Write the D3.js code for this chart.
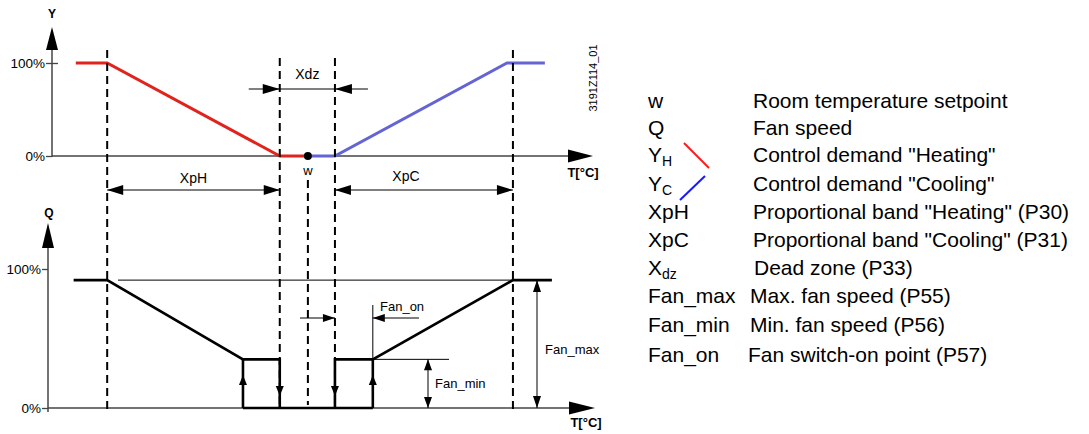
<!DOCTYPE html>
<html>
<head>
<meta charset="utf-8">
<script src="https://cdn.jsdelivr.net/npm/d3@7"></script>
<style>
    body { margin: 0; background: #fff; }
    text { font-family: "Liberation Sans", Arial, sans-serif; fill: #000; }
</style>
</head>
<body>
<div id="chart"></div>
<script>
// temperature axis is schematic: 0..100 units
const heatT = [4.4, 10.2, 42.1, 47.3];
const heatY = [100, 100, 0, 0];
const coolT = [47.3, 52.3, 84.1, 91.1];
const coolY = [0, 0, 100, 100];
const guideT = [10.2, 42.1, 52.3, 85.2];   // XpH start, Xdz start, Xdz end, XpC end
const setpointT = 47.3;
const yTicks = [0, 100];

// fan speed curve (Q in %)
const fanHeatT = [4.0, 10.2, 35.3, 42.1, 42.1];
const fanHeatQ = [92, 92, 35, 35, 0];
const fanCoolT = [52.3, 52.3, 59.3, 85.2, 92.4];
const fanCoolQ = [0, 35, 35, 92, 92];
const fanOffT = [35.3, 59.3];
const fanUpT = [35.3, 59.3];     // switch-on edges
const fanDownT = [42.1, 52.3];   // switch-off edges
const fanMax = 92;
const fanMin = 35;

const legendKeys = ["w", "Q", "Y|H", "Y|C", "XpH", "XpC", "X|dz", "Fan_max", "Fan_min", "Fan_on"];
const legendTexts = ["Room temperature setpoint", "Fan speed", "Control demand \"Heating\"", "Control demand \"Cooling\"",
    "Proportional band \"Heating\" (P30)", "Proportional band \"Cooling\" (P31)", "Dead zone (P33)",
    "Max. fan speed (P55)", "Min. fan speed (P56)", "Fan switch-on point (P57)"];

document.addEventListener("DOMContentLoaded", function () {
    const w = 1089, h = 434;
    const svg = d3.select("#chart").append("svg").attr("width", w).attr("height", h);

    const xScale = d3.scaleLinear().domain([0, 100]).range([52, 593]);
    const yScale = d3.scaleLinear().domain([0, 100]).range([156, 63]);
    const qScale = d3.scaleLinear().domain([0, 100]).range([408, 269]);

    // filled arrow head, dir: "l","r","u","d" = direction the tip points
    const arrow = function (g, x, y, dir, len, half) {
        let pts;
        if (dir === "r") pts = [[x, y], [x - len, y - half], [x - len, y + half]];
        if (dir === "l") pts = [[x, y], [x + len, y - half], [x + len, y + half]];
        if (dir === "u") pts = [[x, y], [x - half, y + len], [x + half, y + len]];
        if (dir === "d") pts = [[x, y], [x - half, y - len], [x + half, y - len]];
        g.append("polygon").attr("points", pts.map(p => p.join(",")).join(" ")).attr("fill", "#000");
    };
    const line = function (g, x1, y1, x2, y2, sw, col) {
        return g.append("line").attr("x1", x1).attr("y1", y1).attr("x2", x2).attr("y2", y2)
            .attr("stroke", col || "#000").attr("stroke-width", sw || 1);
    };

    const top = svg.append("g");
    const bot = svg.append("g");

    // ---- axes (top) ----
    const yAxis = d3.axisLeft(yScale).tickValues(yTicks).tickFormat(d => d + "%").tickSize(6);
    const ya = top.append("g").attr("transform", "translate(52,0)").call(yAxis);
    ya.select(".domain").remove();
    ya.selectAll(".tick line").attr("x2", -6).attr("x1", 6).attr("stroke", "#444").attr("stroke-width", 1.3);
    ya.selectAll(".tick line").filter(d => d === 0).attr("x1", 0);
    ya.selectAll(".tick text").attr("x", -7).attr("dy", "0.35em").style("font-size", "13.5px").style("font-family", "Liberation Sans, Arial");
    line(top, 52, 157, 52, 48, 1.5, "#444");
    arrow(top, 52, 27, "u", 23, 6);
    top.append("text").attr("x", 52).attr("y", 18).attr("text-anchor", "middle").style("font-weight", "bold").style("font-size", "12px").text("Y");
    line(top, 52, 156, 570, 156, 1.5, "#444");
    arrow(top, xScale(100), 156, "r", 25, 6.5);
    top.append("text").attr("x", 583).attr("y", 177).attr("text-anchor", "middle").style("font-weight", "bold").style("font-size", "13px").text("T[°C]");
    top.append("text").attr("transform", "translate(597,78) rotate(-90)").attr("text-anchor", "middle").style("font-size", "11px").text("3191Z114_01");

    // ---- axes (bottom) ----
    const qAxis = d3.axisLeft(qScale).tickValues(yTicks).tickFormat(d => d + "%").tickSize(6);
    const qa = bot.append("g").attr("transform", "translate(48,0)").call(qAxis);
    qa.select(".domain").remove();
    qa.selectAll(".tick line").attr("x2", -6).attr("stroke", "#444").attr("stroke-width", 1.3);
    qa.selectAll(".tick text").attr("x", -7).attr("dy", "0.35em").style("font-size", "13.5px").style("font-family", "Liberation Sans, Arial");
    line(bot, 48, 412, 48, 246, 1.5, "#444");
    arrow(bot, 48, 223, "u", 25, 6);
    bot.append("text").attr("x", 49).attr("y", 217).attr("text-anchor", "middle").style("font-weight", "bold").style("font-size", "12px").text("Q");
    line(bot, 48, 408, 572, 408, 1.5, "#444");
    arrow(bot, 595, 408, "r", 26, 6.5);
    bot.append("text").attr("x", 586).attr("y", 427).attr("text-anchor", "middle").style("font-weight", "bold").style("font-size", "13px").text("T[°C]");

    // ---- dashed guide lines ----
    const guideTop = [50, 58, 58, 50];
    const guideBot = [413, 408, 408, 413];
    guideT.forEach((t, i) => {
        line(svg, xScale(t), guideTop[i], xScale(t), guideBot[i], 2).attr("stroke-dasharray", "8,5");
    });
    line(svg, xScale(setpointT), 180, xScale(setpointT), 405, 2).attr("stroke-dasharray", "8,5");

    // ---- control demand curves ----
    const lineGen = d3.line().x(d => xScale(d[0])).y(d => yScale(d[1]));
    top.append("path").attr("d", lineGen(d3.zip(coolT, coolY))).attr("fill", "none")
        .attr("stroke", "#6464d4").attr("stroke-width", 3);
    top.append("path").attr("d", lineGen(d3.zip(heatT, heatY))).attr("fill", "none")
        .attr("stroke", "#e0231c").attr("stroke-width", 3);
    top.append("circle").attr("cx", xScale(setpointT)).attr("cy", yScale(0)).attr("r", 4).attr("fill", "#000");
    top.append("text").attr("x", xScale(setpointT)).attr("y", 175).attr("text-anchor", "middle").style("font-size", "13px").text("w");

    // ---- dimensions (top) ----
    const x0 = xScale(guideT[0]), x1 = xScale(guideT[1]), x2 = xScale(guideT[2]), x3 = xScale(guideT[3]);
    line(top, x0, 190, x1, 190, 1);
    arrow(top, x0, 190, "l", 16, 5);
    arrow(top, x1, 190, "r", 16, 5);
    top.append("text").attr("x", (x0 + x1) / 2).attr("y", 183).attr("text-anchor", "middle").style("font-size", "14px").text("XpH");
    line(top, x2, 190, x3, 190, 1);
    arrow(top, x2, 190, "l", 16, 5);
    arrow(top, x3, 190, "r", 16, 5);
    top.append("text").attr("x", (x2 + x3) / 2 - 18).attr("y", 181).attr("text-anchor", "middle").style("font-size", "14px").text("XpC");
    line(top, x1 - 31, 89, x1, 89, 1);
    arrow(top, x1, 89, "r", 17, 5);
    line(top, x2, 89, x2 + 33, 89, 1);
    arrow(top, x2, 89, "l", 17, 5);
    line(top, x1, 89, x2, 89, 1);
    top.append("text").attr("x", (x1 + x2) / 2).attr("y", 79).attr("text-anchor", "middle").style("font-size", "14px").text("Xdz");

    // ---- fan curve ----
    const qGen = d3.line().x(d => xScale(d[0])).y(d => qScale(d[1]));
    line(bot, 118, qScale(fanMax), xScale(fanCoolT[3]), qScale(fanMax), 1);
    line(bot, xScale(fanOffT[1]), qScale(fanMin), 449, qScale(fanMin), 1);
    const thick = { fill: "none", stroke: "#000", "stroke-width": 2.6 };
    const fp = (pts) => {
        const p = bot.append("path").attr("d", qGen(pts));
        Object.entries(thick).forEach(([k, v]) => p.attr(k, v));
    };
    fp(d3.zip(fanHeatT, fanHeatQ));
    fp(d3.zip(fanCoolT, fanCoolQ));
    fp(fanOffT.map(t => [t, 0]));
    fanUpT.forEach(t => {
        fp([[t, 0], [t, fanMin]]);
        arrow(bot, xScale(t), 375, "u", 10, 4);
    });
    fanDownT.forEach(t => arrow(bot, xScale(t), 396, "d", 10, 4));

    // fan_on dimension
    const xOn = xScale(fanUpT[1]);
    line(bot, xOn, 305, xOn, qScale(fanMin), 1);
    line(bot, 300, 318, x2, 318, 1);
    arrow(bot, x2, 318, "r", 12, 4);
    line(bot, xOn, 318, 419, 318, 1);
    arrow(bot, xOn, 318, "l", 12, 4);
    bot.append("text").attr("x", 380).attr("y", 311).style("font-size", "13px").text("Fan_on");

    // fan_min dimension
    line(bot, 428, qScale(fanMin), 428, qScale(0), 1);
    arrow(bot, 428, qScale(fanMin), "u", 11, 4);
    arrow(bot, 428, qScale(0), "d", 11, 4);
    bot.append("text").attr("x", 435).attr("y", 388).style("font-size", "13px").text("Fan_min");

    // fan_max dimension
    line(bot, 537, qScale(fanMax), 537, qScale(0), 1);
    arrow(bot, 537, qScale(fanMax), "u", 12, 4);
    arrow(bot, 537, qScale(0), "d", 12, 4);
    bot.append("text").attr("x", 545).attr("y", 354).style("font-size", "13px").text("Fan_max");

    // ---- legend ----
    const rowY = [108, 135, 162, 191, 219, 247, 275, 303, 332, 362];
    const descX = [753, 753, 753, 753, 753, 753, 754, 750, 750, 748];
    const lg = svg.append("g").style("font-size", "21px");
    legendKeys.forEach((k, i) => {
        const parts = k.split("|");
        const t = lg.append("text").attr("x", 648).attr("y", rowY[i]).text(parts[0]);
        if (parts[1]) t.append("tspan").attr("dy", 4).style("font-size", "14px").text(parts[1]);
        lg.append("text").attr("x", descX[i]).attr("y", rowY[i]).text(legendTexts[i]);
    });
    line(lg, 684, 143, 709, 168, 2, "#ff1a1a");
    line(lg, 705, 176, 680, 200, 2, "#1a1aff");
});
</script>
</body>
</html>
